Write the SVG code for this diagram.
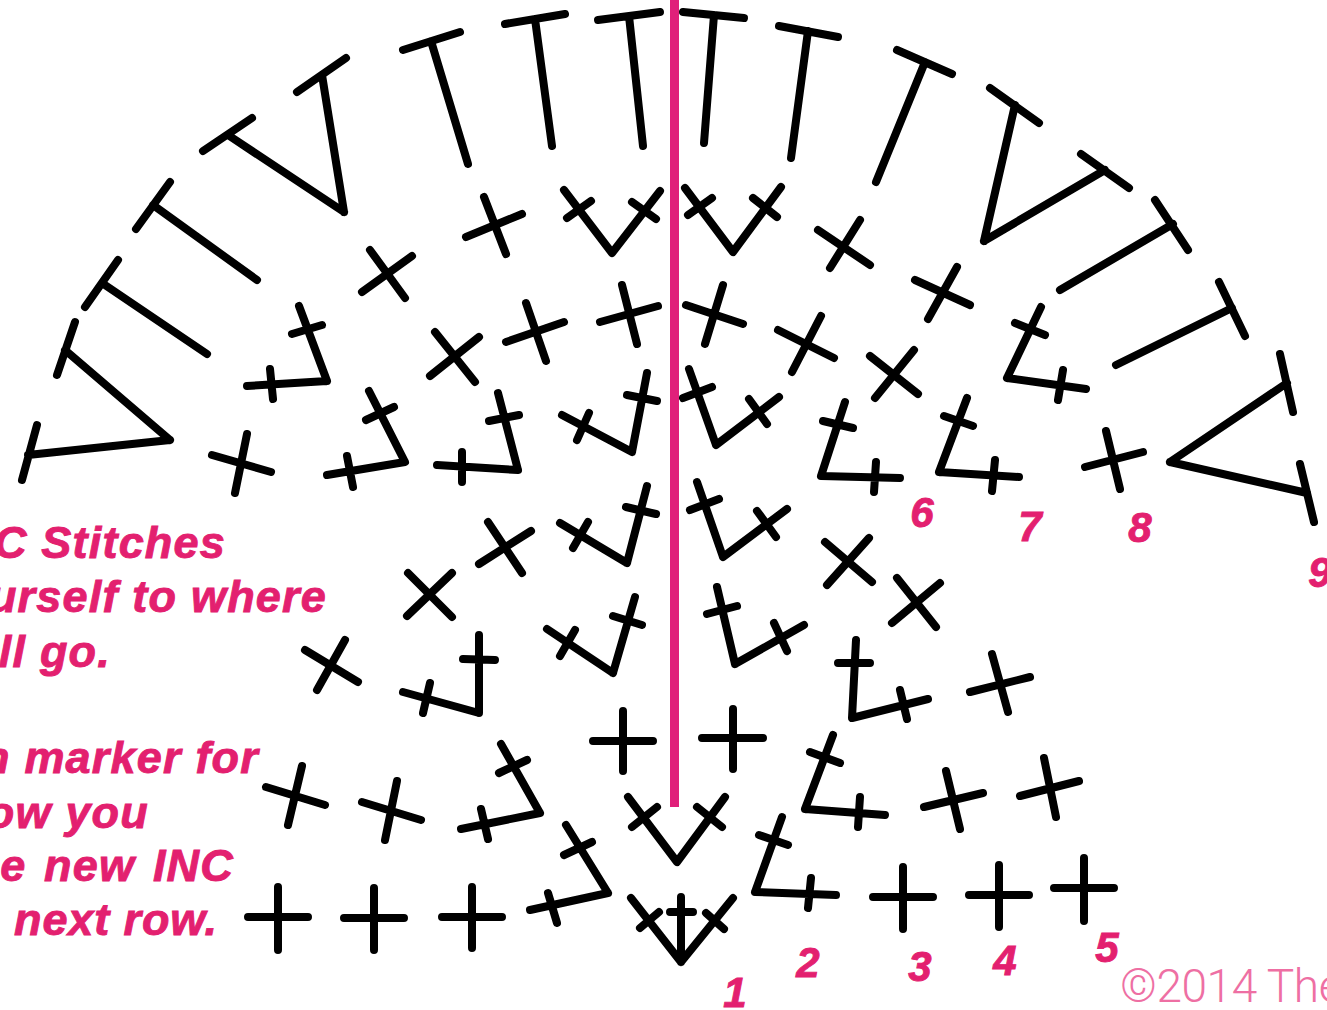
<svg xmlns="http://www.w3.org/2000/svg" width="1327" height="1010" viewBox="0 0 1327 1010">
<style>
.s{fill:none;stroke:#000;stroke-width:8;stroke-linecap:round;stroke-linejoin:round}
.t,.n{font-family:"Liberation Sans",Arial,sans-serif;font-weight:700;font-style:italic;fill:#e3206f;stroke:#e3206f;stroke-width:.9}
.t{font-size:45px;letter-spacing:1.2px;text-anchor:end}
.n{font-size:42px;text-anchor:middle}
.c{font-family:Roboto,"Liberation Sans",sans-serif;font-weight:300;fill:#ee6fa3;font-size:46px;letter-spacing:-.4px}
</style>
<rect width="1327" height="1010" fill="#fff"/>
<g id="outer-row" class="s">
<path d="M37 425L22 480M170 440L28 455M170 440L65 350M75 322L57 375"/>
<path d="M207 354L102 283M118 260L85 307"/>
<path d="M257 280L153 205M170 182L136 229"/>
<path d="M344 212L228 135M252 118L203 151M344 212L322 75M346 58L297 92"/>
<path d="M468 164L431 41M460 32L403 50"/>
<path d="M552 146L535 19M565 14L505 24"/>
<path d="M643 146L629 16M660 12L598 20"/>
<path d="M704 143L714 15M683 12L744 18"/>
<path d="M791 158L808 31M779 26L838 37"/>
<path d="M876 182L925 62M897 50L952 74"/>
<path d="M984 241L1015 105M990 88L1039 123M984 241L1105 170M1081 154L1129 188"/>
<path d="M1060 290L1173 224M1155 200L1188 250"/>
<path d="M1116 365L1232 308M1219 282L1245 336"/>
<path d="M1170 462L1287 383M1280 354L1293 412M1170 462L1307 493M1300 464L1314 522"/>
</g>
<g id="row-8" class="s">
<path d="M212 455L271 472M247 434L235 493"/>
<path d="M405 462L327 475M347 456L353 487M405 462L369 391M366 420L394 407"/>
<path d="M518 470L437 465M462 452V482M518 470L498 393M489 421L519 415"/>
<path d="M632 452L562 415M589 413L577 440M632 452L647 373M627 395L657 401"/>
<path d="M716 445L689 369M683 398L712 387M716 445L779 397M749 399L767 424"/>
<path d="M821 476L845 402M823 421L853 428M821 476L900 478M876 462L874 492"/>
<path d="M939 472L967 398M944 416L973 426M939 472L1019 477M995 460L992 491"/>
<path d="M1085 467L1143 452M1106 431L1120 489"/>
<path d="M327 381L247 386M270 369L273 399M327 381L299 306M292 334L322 325"/>
<path d="M362 292L412 256M370 250L405 298"/>
<path d="M466 237L522 214M484 197L506 254"/>
<path d="M612 253L564 190M567 218L591 201M612 253L660 191M632 202L656 219"/>
<path d="M733 252L685 188M688 215L712 198M733 252L781 187M753 198L777 217"/>
<path d="M818 230L870 265M860 220L830 268"/>
<path d="M915 280L970 305M957 267L928 319"/>
<path d="M1007 378L1041 307M1015 323L1045 335M1007 378L1086 389M1063 370L1058 400"/>
<path d="M430 376L479 337M435 332L475 382"/>
<path d="M506 342L564 322M526 303L546 361"/>
<path d="M600 322L658 306M622 285L637 344"/>
<path d="M686 305L743 324M723 285L705 344"/>
<path d="M778 330L834 358M821 316L792 372"/>
<path d="M870 356L918 394M914 350L875 398"/>
</g>
<g id="middle-rows" class="s">
<path d="M479 564L531 531M488 522L522 573"/>
<path d="M627 563L560 523M588 522L573 548M627 563L647 486M626 507L656 514"/>
<path d="M723 557L697 482M690 510L719 499M723 557L787 509M757 511L776 537"/>
<path d="M825 542L872 582M869 538L827 585"/>
<path d="M892 623L940 583M897 578L936 627"/>
<path d="M407 616L452 573M408 573L452 617"/>
<path d="M305 650L358 682M345 640L317 690"/>
<path d="M479 713L403 692M430 683L423 713M479 713V635M463 659L495 660"/>
<path d="M613 673L547 629M575 630L560 656M613 673L635 597M613 616L642 625"/>
<path d="M735 664L717 587M707 614L737 606M735 664L804 625M774 623L787 651"/>
<path d="M852 718L856 640M838 663H870M852 718L928 699M900 690L907 719"/>
<path d="M970 692L1030 677M992 654L1008 712"/>
</g>
<g id="lower-rows" class="s">
<path d="M593 741H653M623 711V771"/>
<path d="M702 738H763M733 709V769"/>
<path d="M266 787L325 805M302 766L288 825"/>
<path d="M362 802L421 820M397 781L385 840"/>
<path d="M540 813L461 829M481 809L488 839M540 813L501 744M499 773L527 760"/>
<path d="M805 809L833 735M810 752L840 763M805 809L885 815M860 797L858 827"/>
<path d="M924 807L983 793M946 771L960 829"/>
<path d="M1020 796L1079 781M1044 758L1056 817"/>
<path d="M677 862L628 797M632 827L657 807M677 862L725 797M697 807L722 827"/>
<path d="M608 893L530 910M548 893L557 923M608 893L566 825M564 855L592 842"/>
<path d="M755 892L782 817M759 835L788 845M755 892L836 895M811 878L808 908"/>
<path d="M681 962L631 898M640 928L659 912M681 962V897M670 912H693M681 962L733 898M706 913L724 929"/>
<path d="M248 917H308M278 887V950"/>
<path d="M344 918H404M374 888V950"/>
<path d="M442 917H502M472 887V948"/>
<path d="M873 897H933M903 867V929"/>
<path d="M969 895H1029M999 865V927"/>
<path d="M1054 888H1114M1084 858V921"/>
</g>
<path id="marker" d="M674.500 0V807" stroke="#e0207a" stroke-width="9" fill="none"/>
<g id="notes">
<text class="t" x="226" y="558">C Stitches</text>
<text class="t" x="327" y="612">urself to where</text>
<text class="t" x="111" y="667">ill go.</text>
<text class="t" x="259" y="773">n marker for</text>
<text class="t" x="149" y="828">ow you</text>
<text class="t" x="234" y="881" style="word-spacing:4px">e new INC</text>
<text class="t" x="218" y="935" style="letter-spacing:.9px">o next row.</text>
</g>
<g id="numbers">
<text class="n" x="735" y="1007">1</text>
<text class="n" x="808" y="977">2</text>
<text class="n" x="920" y="981">3</text>
<text class="n" x="1005" y="975">4</text>
<text class="n" x="1107" y="962">5</text>
<text class="n" x="922" y="527">6</text>
<text class="n" x="1030" y="541">7</text>
<text class="n" x="1140" y="542">8</text>
<text class="n" x="1320" y="587">9</text>
</g>
<text class="c" x="1120" y="1002">©2014 The</text>
</svg>
